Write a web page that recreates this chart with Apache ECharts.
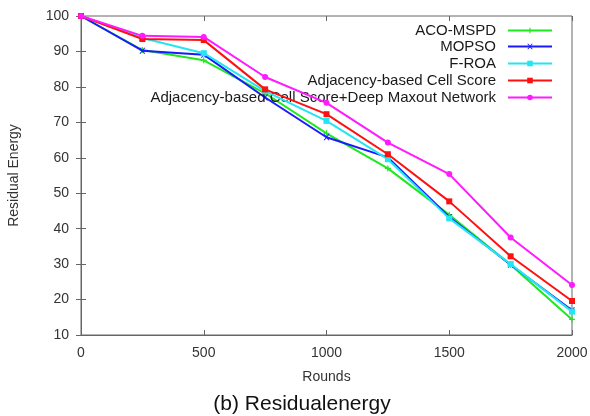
<!DOCTYPE html>
<html>
<head>
<meta charset="utf-8">
<script src="https://cdn.jsdelivr.net/npm/echarts@6/dist/echarts.min.js"></script>
<style>
  html, body { margin: 0; padding: 0; background: #fff; }
  #chart { width: 590px; height: 416px; }
</style>
</head>
<body>
<div id="chart"></div>
<script>
// Residual energy per round for each routing scheme
const rounds = [0, 250, 500, 750, 1000, 1250, 1500, 1750, 2000];
const xTicks = [0, 500, 1000, 1500, 2000];
const yTicks = [10, 20, 30, 40, 50, 60, 70, 80, 90, 100];

const acoMspd   = [100, 90.4, 87.5, 78.2, 66.9, 57.0, 43.9, 29.8, 14.4];
const mopso     = [100, 90.2, 89.1, 77.0, 65.8, 60.1, 43.3, 29.8, 17.0];
const fRoa      = [100, 93.8, 89.5, 78.8, 70.4, 59.6, 42.9, 30.0, 16.6];
const cellScore = [100, 93.5, 93.2, 79.3, 72.3, 61.0, 47.7, 32.2, 19.6];
const cellDeep  = [100, 94.4, 94.1, 82.8, 75.5, 64.3, 55.4, 37.5, 24.1];

const seriesNames = [
  'ACO-MSPD',
  'MOPSO',
  'F-ROA',
  'Adjacency-based Cell Score',
  'Adjacency-based Cell Score+Deep Maxout Network'
];
const seriesData = [acoMspd, mopso, fRoa, cellScore, cellDeep];
const colors = ['#1ee81e', '#1a1aff', '#22e6f2', '#ff1010', '#ff1aff'];
const symbols = [
  'path://M2,0H3V5H2Z M0,2H5V3H0Z',
  'path://M0,0L1,0L5,5L4,5Z M4,0L5,0L1,5L0,5Z',
  'rect',
  'rect',
  'circle'
];
const symbolSizes = [6, 6, 6, 6, 6];

const font = 'Liberation Sans, Arial, Helvetica, sans-serif';
const legendRows = [29, 45, 62, 79, 96];

const chart = echarts.init(document.getElementById('chart'), null, { renderer: 'canvas' });

const pairs = n => rounds.map((r, i) => [r, n[i]]);

const option = {
  animation: false,
  backgroundColor: '#ffffff',
  title: {
    text: '(b) Residualenergy',
    left: 302,
    textAlign: 'center',
    top: 394,
    padding: 0,
    textStyle: { fontFamily: font, fontSize: 21, fontWeight: 'normal', color: '#111' }
  },
  legend: seriesNames.map((name, i) => ({
    data: [name],
    orient: 'vertical',
    align: 'right',
    right: 37,
    top: legendRows[i] - 6,
    padding: 0,
    itemWidth: 44,
    itemHeight: 7,
    selectedMode: false,
    textStyle: { fontFamily: font, fontSize: 15, color: '#1a1a1a', padding: [0, 7, 0, 0] }
  })),
  grid: {
    left: 81, right: 18, top: 16, bottom: 81,
    outerBoundsMode: 'none',
    containLabel: false,
    show: true, borderColor: '#666', borderWidth: 1
  },
  xAxis: [{
    type: 'value',
    min: xTicks[0],
    max: xTicks[xTicks.length - 1],
    interval: xTicks[1] - xTicks[0],
    name: 'Rounds',
    nameLocation: 'middle',
    nameGap: 35,
    nameTextStyle: { fontFamily: font, fontSize: 14, color: '#333' },
    axisLine: { show: true, lineStyle: { color: '#666' } },
    axisTick: { show: true, inside: true, length: 5, lineStyle: { color: '#666' } },
    axisLabel: { fontFamily: font, fontSize: 14, color: '#333', margin: 11, formatter: v => String(v) },
    splitLine: { show: false }
  }, {
    type: 'value',
    position: 'top',
    min: xTicks[0],
    max: xTicks[xTicks.length - 1],
    interval: xTicks[1] - xTicks[0],
    axisLine: { show: false },
    axisTick: { show: true, inside: true, length: 5, lineStyle: { color: '#666' } },
    axisLabel: { show: false },
    splitLine: { show: false }
  }],
  yAxis: [{
    type: 'value',
    min: yTicks[0],
    max: yTicks[yTicks.length - 1],
    interval: yTicks[1] - yTicks[0],
    name: 'Residual Energy',
    nameLocation: 'middle',
    nameGap: 60,
    nameTextStyle: { fontFamily: font, fontSize: 14, color: '#333' },
    axisLine: { show: true, lineStyle: { color: '#666' } },
    axisTick: { show: true, inside: true, length: 5, lineStyle: { color: '#666' } },
    axisLabel: { fontFamily: font, fontSize: 14, color: '#333', margin: 12 },
    splitLine: { show: false }
  }, {
    type: 'value',
    position: 'right',
    min: yTicks[0],
    max: yTicks[yTicks.length - 1],
    interval: yTicks[1] - yTicks[0],
    axisLine: { show: false },
    axisTick: { show: true, inside: true, length: 5, lineStyle: { color: '#666' } },
    axisLabel: { show: false },
    splitLine: { show: false }
  }],
  series: seriesNames.map((name, i) => ({
    name: name,
    type: 'line',
    xAxisIndex: 0,
    yAxisIndex: 0,
    data: pairs(seriesData[i]),
    symbol: symbols[i],
    symbolSize: symbolSizes[i],
    showAllSymbol: true,
    lineStyle: { color: colors[i], width: 2 },
    itemStyle: { color: colors[i], borderWidth: 0 },
    emphasis: { disabled: true },
    z: 2 + i
  }))
};

chart.setOption(option);
</script>
</body>
</html>
